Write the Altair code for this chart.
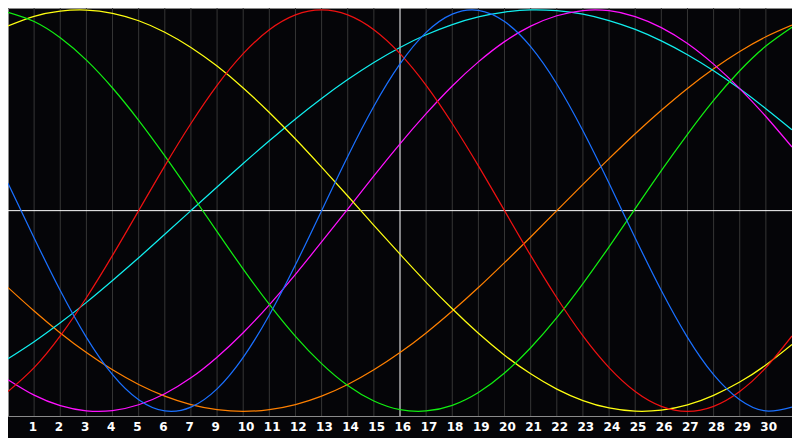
import json
import altair as alt
import pandas as pd

# ---- data ----
days = list(range(0, 31))

blue = [0.136, -0.136, -0.398, -0.631, -0.817, -0.942, -0.998, -0.979, -0.888, -0.731,
        -0.520, -0.270, 0.000, 0.270, 0.520, 0.731, 0.888, 0.979, 0.998, 0.942,
        0.817, 0.631, 0.398, 0.136, -0.136, -0.398, -0.631, -0.817, -0.942, -0.998, -0.979]
red = [-0.901, -0.782, -0.624, -0.434, -0.223, 0.000, 0.223, 0.434, 0.624, 0.782,
       0.901, 0.975, 1.000, 0.975, 0.901, 0.782, 0.624, 0.434, 0.223, 0.000,
       -0.223, -0.434, -0.624, -0.782, -0.901, -0.975, -1.000, -0.975, -0.901, -0.782, -0.624]
green = [0.988, 0.942, 0.861, 0.750, 0.611, 0.450, 0.273, 0.086, -0.105, -0.291,
         -0.467, -0.626, -0.762, -0.871, -0.948, -0.991, -0.998, -0.970, -0.906, -0.809,
         -0.683, -0.533, -0.363, -0.180, 0.010, 0.199, 0.380, 0.549, 0.697, 0.820, 0.914]
magenta = [-0.842, -0.919, -0.971, -0.997, -0.996, -0.967, -0.912, -0.833, -0.730, -0.608,
           -0.469, -0.317, -0.156, 0.008, 0.173, 0.333, 0.483, 0.621, 0.741, 0.842,
           0.919, 0.971, 0.997, 0.996, 0.967, 0.912, 0.833, 0.730, 0.608, 0.469, 0.317]
yellow = [0.920, 0.968, 0.994, 0.999, 0.983, 0.946, 0.889, 0.813, 0.720, 0.611,
          0.489, 0.357, 0.217, 0.073, -0.073, -0.217, -0.357, -0.489, -0.611, -0.720,
          -0.813, -0.889, -0.946, -0.983, -0.999, -0.994, -0.968, -0.920, -0.854, -0.769, -0.667]
orange = [-0.383, -0.500, -0.609, -0.707, -0.793, -0.866, -0.924, -0.966, -0.991, -1.000,
          -0.991, -0.966, -0.924, -0.866, -0.793, -0.707, -0.609, -0.500, -0.383, -0.259,
          -0.131, 0.000, 0.131, 0.259, 0.383, 0.500, 0.609, 0.707, 0.793, 0.866, 0.924]
cyan = [-0.738, -0.653, -0.559, -0.457, -0.348, -0.235, -0.118, 0.000, 0.118, 0.235,
        0.348, 0.457, 0.559, 0.653, 0.738, 0.813, 0.876, 0.927, 0.965, 0.989,
        1.000, 0.996, 0.979, 0.947, 0.903, 0.846, 0.777, 0.697, 0.607, 0.508, 0.403]

series_names = ["orange", "cyan", "magenta", "yellow", "green", "red", "blue"]
series_values = [orange, cyan, magenta, yellow, green, red, blue]
series_colors = ["#ff8000", "#11eeee", "#ff11ff", "#ffff11", "#11ee11", "#ee1111", "#1a70ff"]

tick_positions = list(range(1, 30))
tick_labels = ["1", "2", "3", "4", "5", "6", "7", "9", "10", "11", "12", "13", "14", "15",
               "16", "17", "18", "19", "20", "21", "22", "23", "24", "25", "26", "27", "28",
               "29", "30"]
center_day = 15

# ---- tables ----
rows = []
for name, vals in zip(series_names, series_values):
    for d, v in zip(days, vals):
        rows.append({"day": d, "value": v, "series": name})
lines_df = pd.DataFrame(rows)
grid_df = pd.DataFrame({"day": [p for p in tick_positions if p != center_day]})
center_df = pd.DataFrame({"day": [center_day], "value": [0.0]})

BG = "#050508"

x_enc = alt.X(
    "day:Q",
    scale=alt.Scale(domain=[0, 30], nice=False, zero=False),
    axis=alt.Axis(
        values=tick_positions,
        labelExpr=json.dumps(tick_labels) + "[datum.value - 1]",
        title=None,
        grid=False,
        ticks=False,
        domain=True,
        domainColor="#8a8a8a",
        domainWidth=1,
        labelColor="#ffffff",
        labelFont="DejaVu Sans",
        labelFontWeight="bold",
        labelFontSize=12,
        labelAlign="left",
        labelBaseline="top",
        labelOffset=-6,
        labelPadding=5,
        labelOverlap=False,
        labelFlush=False,
    ),
)
y_scale = alt.Scale(domain=[-1.023, 1.0095], nice=False, zero=False)

grid = alt.Chart(grid_df).mark_rule(color="#363636", strokeWidth=1).encode(x=x_enc)
vcenter = alt.Chart(center_df).mark_rule(color="#ffffff", strokeWidth=1).encode(x=x_enc)
hcenter = alt.Chart(center_df).mark_rule(color="#ffffff", strokeWidth=1).encode(
    y=alt.Y("value:Q", scale=y_scale, axis=None)
)
lines = alt.Chart(lines_df).mark_line(strokeWidth=1.25, interpolate="natural").encode(
    x=x_enc,
    y=alt.Y("value:Q", scale=y_scale, axis=None),
    color=alt.Color("series:N", scale=alt.Scale(domain=series_names, range=series_colors), legend=None),
    detail="series:N",
)

chart = (
    alt.layer(grid, vcenter, hcenter, lines)
    .properties(
        width=784,
        height=408,
        padding={"left": 0, "top": 0, "right": 0, "bottom": 22},
        autosize=alt.AutoSizeParams(type="none"),
        background=BG,
    )
    .configure_view(fill=BG, stroke="#8a8a8a", strokeWidth=1)
)

chart.save("out.html", embed_options={"renderer": "svg", "actions": False})
